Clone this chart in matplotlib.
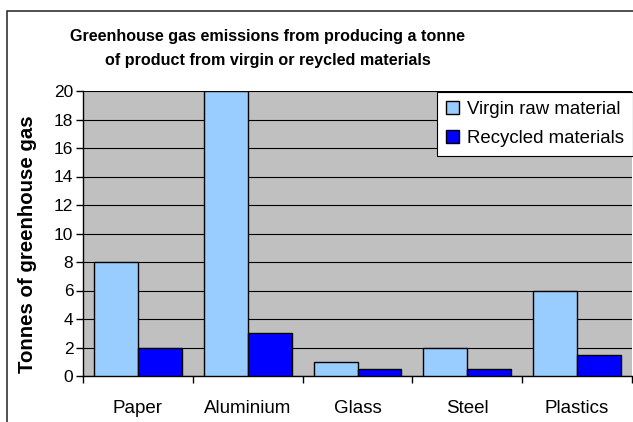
import numpy as np
import matplotlib.pyplot as plt
from matplotlib.patches import Rectangle

plt.rcParams['font.family'] = ['Liberation Sans', 'DejaVu Sans']

categories = ['Paper', 'Aluminium', 'Glass', 'Steel', 'Plastics']
virgin = [8, 20, 1, 2, 6]
recycled = [2, 3, 0.5, 0.5, 1.5]
yticks = [0, 2, 4, 6, 8, 10, 12, 14, 16, 18, 20]

fig = plt.figure(figsize=(6.33, 4.22), dpi=100)
ax = fig.add_axes([83 / 633, 1 - 376 / 422, 549 / 633, 285 / 422])

# chart area border (Excel style)
fig.patches.append(Rectangle((7 / 633, -0.1), 2, 1 - 11 / 422 + 0.1,
                             transform=fig.transFigure, fill=False,
                             edgecolor='#333333', linewidth=1.2))

x = np.arange(len(categories))
ax.set_facecolor('#C0C0C0')
ax.bar(x - 0.2, virgin, 0.4, color='#99CCFF', edgecolor='black', linewidth=1,
       label='Virgin raw material', zorder=3)
ax.bar(x + 0.2, recycled, 0.4, color='#0000FF', edgecolor='black', linewidth=1,
       label='Recycled materials', zorder=3)

ax.set_xlim(-0.5, len(categories) - 0.5)
ax.set_ylim(0, 20)
ax.set_yticks(yticks)
ax.yaxis.grid(True, color='black', linewidth=0.8, zorder=0)
ax.set_axisbelow(True)

ax.set_xticks(x)
ax.set_xticklabels(categories, fontsize=13.5)
ax.set_xticks(np.arange(-0.5, len(categories)), minor=True)
ax.tick_params(axis='x', which='major', length=0, pad=17)
ax.tick_params(axis='x', which='minor', length=5, width=1)
ax.tick_params(axis='y', labelsize=12.5, length=5, width=1, pad=2)

for s in ['top', 'right']:
    ax.spines[s].set_visible(False)
ax.spines['left'].set_linewidth(1)
ax.spines['bottom'].set_linewidth(1)

ax.set_ylabel('Tonnes of greenhouse gas', fontsize=14.7, fontweight='bold')
ax.yaxis.set_label_coords((37 - 83) / 549, (376 - 244) / 285)

fig.text(268 / 633, 1 - 48.5 / 422,
         'Greenhouse gas emissions from producing a tonne\nof product from virgin or reycled materials',
         ha='center', va='center', fontsize=11.6, fontweight='bold', linespacing=1.75)

leg = ax.legend(loc='upper right', bbox_to_anchor=(1.0, 1 - 92 / 422),
                bbox_transform=fig.transFigure, fontsize=13.4, fancybox=False,
                framealpha=1, edgecolor='black', handlelength=0.7, handleheight=0.7,
                handletextpad=0.4, borderpad=0.5, labelspacing=0.6, borderaxespad=0)
leg.get_frame().set_linewidth(0.8)

fig.savefig('out.png', dpi=100)
